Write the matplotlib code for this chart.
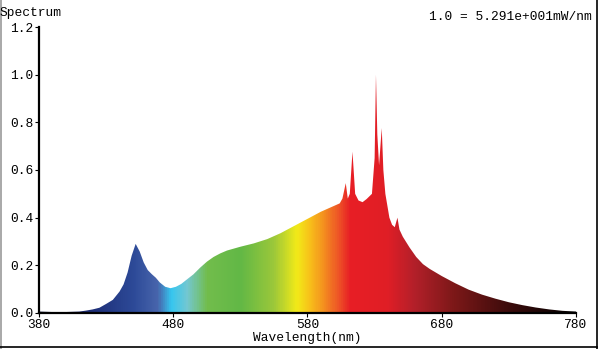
import numpy as np
import matplotlib
matplotlib.use("Agg")
import matplotlib.pyplot as plt
from matplotlib.colors import LinearSegmentedColormap
from matplotlib.lines import Line2D

# relative spectral power, 1.0 = 52.91 mW/nm
wavelength = [380, 390, 400, 410, 415, 420, 425, 430, 435, 440, 443, 446, 449, 452,
              455, 458, 461, 464, 467, 470, 474, 478, 482, 486, 490, 495, 500, 505,
              510, 515, 520, 530, 540, 550, 560, 570, 580, 590, 600, 604, 606, 608.5,
              610, 611.5, 613.5, 615.5, 618, 621, 624, 628, 630, 631, 632, 633.3,
              635.3, 636.5, 638, 641, 643, 645, 647, 648.5, 651, 656, 661, 666, 671,
              680, 690, 700, 710, 720, 730, 740, 750, 760, 770, 780]
intensity = [0.006, 0.004, 0.004, 0.006, 0.010, 0.015, 0.022, 0.038, 0.055, 0.090,
             0.120, 0.170, 0.240, 0.290, 0.258, 0.212, 0.180, 0.163, 0.148, 0.128,
             0.110, 0.104, 0.110, 0.122, 0.140, 0.162, 0.190, 0.215, 0.235, 0.250,
             0.262, 0.278, 0.292, 0.310, 0.335, 0.365, 0.395, 0.425, 0.450, 0.460,
             0.480, 0.545, 0.480, 0.500, 0.677, 0.500, 0.472, 0.465, 0.478, 0.500,
             0.650, 1.000, 0.750, 0.620, 0.776, 0.600, 0.500, 0.400, 0.370, 0.360,
             0.400, 0.350, 0.320, 0.275, 0.235, 0.205, 0.185, 0.155, 0.125, 0.098,
             0.077, 0.060, 0.045, 0.033, 0.023, 0.015, 0.009, 0.006]

x_ticks = [380, 480, 580, 680, 780]
y_ticks = [0.0, 0.2, 0.4, 0.6, 0.8, 1.0, 1.2]

# visible-spectrum colour stops (nm, colour)
color_stops = [(380, "#141a40"), (420, "#1e2f78"), (450, "#2d4a98"), (468, "#4865ac"),
               (478, "#35c6f0"), (490, "#74c8d2"), (505, "#72bd4c"), (530, "#62b846"),
               (555, "#9cc83a"), (572, "#f2ea18"), (582, "#f8c01a"), (592, "#f4901f"),
               (603, "#ee5527"), (612, "#e81f25"), (640, "#e01e26"), (660, "#b3202a"),
               (690, "#7c1818"), (730, "#3d0c0c"), (780, "#000000")]

plt.rcParams["font.family"] = ["Liberation Mono", "DejaVu Sans Mono"]
plt.rcParams["font.size"] = 9.3

fig = plt.figure(figsize=(6.0, 3.49), dpi=100)
ax = fig.add_axes([0.065, 0.1032, 0.895, 0.8194])

wl = np.array(wavelength)
val = np.array(intensity)

cmap = LinearSegmentedColormap.from_list(
    "spec", [((w - 380) / 400, c) for w, c in color_stops])
grad = np.linspace(0, 1, 800).reshape(1, -1)
img = ax.imshow(grad, cmap=cmap, aspect="auto", extent=[380, 780, 0, 1.2],
                interpolation="bilinear", zorder=1)
poly = ax.fill_between(wl, 0, val, color="none", lw=0)
img.set_clip_path(poly.get_paths()[0], transform=ax.transData)

ax.set_xlim(380, 780)
ax.set_ylim(0, 1.2)
ax.set_xticks(x_ticks)
ax.set_yticks(y_ticks)
ax.set_yticklabels([f"{v:.1f}" for v in y_ticks])
ax.spines["top"].set_visible(False)
ax.spines["right"].set_visible(False)
ax.spines["left"].set_linewidth(1.6)
ax.spines["bottom"].set_linewidth(1.6)
ax.tick_params(direction="out", length=3, width=0.8, pad=1, colors="black")
ax.set_xlabel("Wavelength(nm)", labelpad=1)

fig.text(0.0, 0.962, "Spectrum", ha="left", va="center")
fig.text(0.987, 0.952, "1.0 = 5.291e+001mW/nm", ha="right", va="center")

# outer frame
fig.add_artist(Line2D([0.001, 0.001], [0, 1], color="#9a9a9a", lw=1.2))
fig.add_artist(Line2D([0.995, 0.995], [0, 1], color="black", lw=1.2))
fig.add_artist(Line2D([0, 0.995], [0.006, 0.006], color="black", lw=1.2))

fig.savefig("out.png", dpi=100)
